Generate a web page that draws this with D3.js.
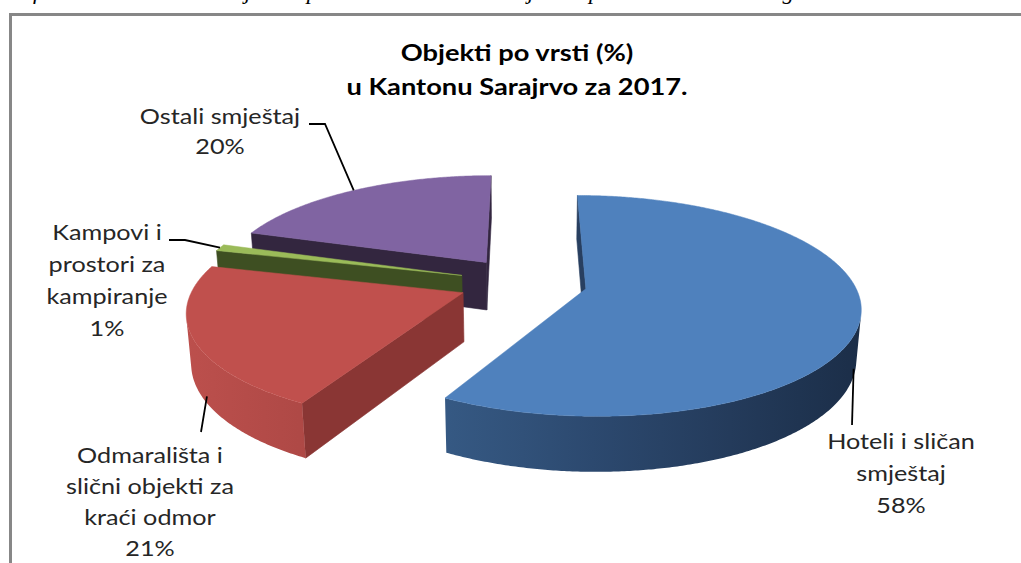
<!DOCTYPE html>
<html>
<head>
<meta charset="utf-8">
<script src="https://cdn.jsdelivr.net/npm/d3@7"></script>
<style>
	body { margin: 0; background: #fff; }
	svg { display: block; }
</style>
</head>
<body>
<svg id="chart" width="1021" height="563"></svg>
<script>
// data
const categories = ["Hoteli i sličan smještaj", "Odmarališta i slični objekti za kraći odmor", "Kampovi i prostori za kampiranje", "Ostali smještaj"];
const values = [58, 21, 1, 20];
const labelLines = [
	["Hoteli i sličan", "smještaj"],
	["Odmarališta i", "slični objekti za", "kraći odmor"],
	["Kampovi i", "prostori za", "kampiranje"],
	["Ostali smještaj"]
];
const titleLines = ["Objekti po vrsti (%)", "u Kantonu Sarajrvo za 2017."];
const captionText = "Grafikon 4.11 Struktura objekata po vrsti u Kantonu Sarajevo u procentima za 2017. godinu";

// excel-ish palette: top face, light wall, dark wall, cut face
const topColors = ["#4f81bd", "#c0504d", "#9bbb59", "#8064a2"];
const wallLight = ["#4674aa", "#bd504d", "#6f8a3a", "#5a4575"];
const wallDark = ["#1b2d47", "#6e2624", "#2d3a16", "#2a1f36"];
const cutColors = ["#283f60", "#8a3634", "#3e4f22", "#33263f"];

const svg = d3.select("#chart");
const defs = svg.append("defs");

// caption of the page, cut by the top edge
svg.append("text")
	.attr("x", -4)
	.attr("y", -1)
	.attr("font-family", "Liberation Serif")
	.attr("font-style", "italic")
	.attr("font-size", 23)
	.attr("fill", "#000")
	.text(captionText);

// frame of the chart area
svg.append("rect")
	.attr("x", 10.5)
	.attr("y", 14.5)
	.attr("width", 1030)
	.attr("height", 600)
	.attr("fill", "none")
	.attr("stroke", "#878787")
	.attr("stroke-width", 3);

const font = "Lato, 'Open Sans', sans-serif";
// the picture is a bit stretched sideways, texts too
const stretch = 1.2;

svg.selectAll("text.title")
	.data(titleLines)
	.join("text")
	.classed("title", true)
	.attr("transform", (d, i) => `translate(517, ${61 + i * 34}) scale(1.16, 1)`)
	.attr("text-anchor", "middle")
	.attr("font-family", font)
	.attr("font-weight", "bold")
	.attr("font-size", 23.5)
	.attr("fill", "#000")
	.text((d) => d);

// ---- 3d pie projection ----
const R = 1, explode = 0.24, thick = 0.2;
const phi = 25 * Math.PI / 180, cosP = Math.cos(phi), sinP = Math.sin(phi);
const D = 6, F = 1585, cx = 523, cy = 331;

function project(X, Y, Z) {
	let yc = Y * cosP + Z * sinP;
	let zc = D + Z * cosP - Y * sinP;
	return [cx + F * X / zc, cy - F * yc / zc];
}
const camera = [0, D * sinP, -D * cosP];

let pie = d3.pie().sort(null).value((d) => d).startAngle(0).endAngle(2 * Math.PI);
let arcs = pie(values).map((a, i) => {
	let mid = (a.startAngle + a.endAngle) / 2;
	return {
		...a,
		i: i,
		mid: mid,
		ox: explode * Math.sin(mid),
		oz: explode * Math.cos(mid)
	};
});

function rim(a, t, y) {
	return project(a.ox + R * Math.sin(t), y, a.oz + R * Math.cos(t));
}
function apex(a, y) {
	return project(a.ox, y, a.oz);
}
function visible(n, p) {
	return n[0] * (camera[0] - p[0]) + n[1] * (camera[1] - p[1]) + n[2] * (camera[2] - p[2]) > 0;
}

let line = d3.line();
let pieG = svg.append("g");

// back to front
let order = arcs.slice().sort((a, b) => b.oz - a.oz);

order.forEach((a) => {
	let g = pieG.append("g");
	let shade = d3.interpolateRgb(wallDark[a.i], wallLight[a.i]);

	// wall gradient, light on the left, dark on the right
	let grad = defs.append("linearGradient")
		.attr("id", "wall" + a.i)
		.attr("gradientUnits", "userSpaceOnUse")
		.attr("x1", cx - 345).attr("x2", cx + 345)
		.attr("y1", 0).attr("y2", 0);
	grad.selectAll("stop")
		.data(d3.range(0, 1.01, 0.1))
		.join("stop")
		.attr("offset", (d) => d)
		.attr("stop-color", (d) => shade(1 - d));

	// cut faces
	[[a.startAngle, -1], [a.endAngle, 1]].forEach(([t, s]) => {
		let n = [s * Math.cos(t), 0, -s * Math.sin(t)];
		let p = [a.ox + 0.5 * Math.sin(t), thick / 2, a.oz + 0.5 * Math.cos(t)];
		if (!visible(n, p)) return;
		g.append("path")
			.attr("d", line([apex(a, thick), rim(a, t, thick), rim(a, t, 0), apex(a, 0)]) + "Z")
			.attr("fill", cutColors[a.i])
			.attr("stroke", cutColors[a.i])
			.attr("stroke-width", 0.6);
	});

	// outer wall, the part facing the camera as one band
	let steps = Math.max(2, Math.ceil((a.endAngle - a.startAngle) / (Math.PI / 360)));
	let dt = (a.endAngle - a.startAngle) / steps;
	let seen = [];
	for (let k = 0; k <= steps; k++) {
		let t = a.startAngle + k * dt;
		let n = [Math.sin(t), 0, Math.cos(t)];
		let p = [a.ox + Math.sin(t), thick / 2, a.oz + Math.cos(t)];
		if (visible(n, p)) seen.push(t);
	}
	if (seen.length > 1) {
		let topEdge = seen.map((t) => rim(a, t, thick));
		let botEdge = seen.map((t) => rim(a, t, 0)).reverse();
		g.append("path")
			.attr("d", line(topEdge.concat(botEdge)) + "Z")
			.attr("fill", `url(#wall${a.i})`);
	}

	// top face
	let pts = [apex(a, thick)];
	for (let k = 0; k <= steps; k++) pts.push(rim(a, a.startAngle + k * dt, thick));
	g.append("path")
		.attr("d", line(pts) + "Z")
		.attr("fill", topColors[a.i])
		.attr("stroke", topColors[a.i])
		.attr("stroke-width", 0.5);
});

// ---- labels with leader lines ----
const deg = Math.PI / 180;
// anchor on the slice: angle, height; then leader bends and label box
const labelLayout = [
	{ t: 110 * deg, y: 0.04, bends: [[852, 425]], x: 901, top: 449, gap: 32 },
	{ t: 240 * deg, y: 0.03, bends: [[201, 432]], x: 150, top: 463, gap: 31 },
	{ mid: true, y: thick, bends: [[185, 240], [169, 240]], x: 107, top: 240, gap: 32 },
	{ mid: true, y: thick, bends: [[325, 124], [309, 124]], x: 220, top: 124, gap: 30 }
];

arcs.forEach((a, i) => {
	let L = labelLayout[i];
	let t = L.mid ? a.mid : L.t;
	let pts = [rim(a, t, L.y)].concat(L.bends);
	svg.append("path")
		.attr("d", line(pts))
		.attr("fill", "none")
		.attr("stroke", "#000")
		.attr("stroke-width", 1.8);

	let lines = labelLines[i].concat([d3.format(".0f")(a.value) + "%"]);
	svg.append("g")
		.attr("transform", `translate(${L.x}, ${L.top}) scale(${stretch}, 1)`)
		.selectAll("text")
		.data(lines)
		.join("text")
		.attr("y", (d, j) => j * L.gap)
		.attr("text-anchor", "middle")
		.attr("font-family", font)
		.attr("font-size", 21)
		.attr("fill", "#262626")
		.text((d) => d);
});
</script>
</body>
</html>
